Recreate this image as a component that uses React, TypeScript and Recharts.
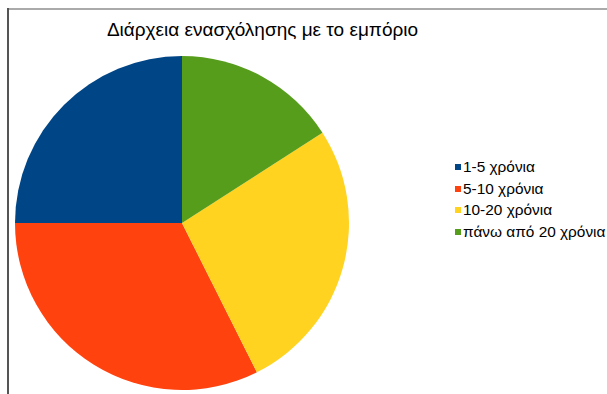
import React from 'react';
import { PieChart, Pie, Cell, Legend } from 'recharts';

const categories = ['1-5 χρόνια', '5-10 χρόνια', '10-20 χρόνια', 'πάνω από 20 χρόνια'];
const values = [25, 32.4, 26.7, 15.9];
const colors = ['#004586', '#ff420e', '#ffd320', '#579d1c'];
const title = 'Διάρχεια ενασχόλησης με το εμπόριο';

const data = categories.map((name, i) => ({ name, value: values[i] }));

const FONT = '"Liberation Sans", Arial, sans-serif';

const renderLegend = () => {
  return (
    <div style={{ fontFamily: FONT, fontSize: 15.4, color: '#000' }}>
      {categories.map((name, i) => (
        <div key={name} style={{ display: 'flex', alignItems: 'center', height: 21.7, whiteSpace: 'nowrap' }}>
          <span style={{ display: 'inline-block', width: 6, height: 6, background: colors[i], marginRight: 2 }} />
          <span>{name}</span>
        </div>
      ))}
    </div>
  );
};

export default function App() {
  return (
    <div style={{ position: 'absolute', left: 0, top: 0, width: 607, height: 394, background: '#fff', overflow: 'hidden' }}>
      <div style={{ position: 'absolute', left: 7, top: 8, width: 600, height: 2, background: '#aaaaaa' }} />
      <div style={{ position: 'absolute', left: 7, top: 8, width: 2, height: 386, background: '#555555' }} />
      <div style={{ position: 'absolute', left: 0, top: 19, width: 525, textAlign: 'center', fontFamily: FONT, fontSize: 19, color: '#000', whiteSpace: 'nowrap' }}>
        {title}
      </div>
      <PieChart width={607} height={394} style={{ position: 'absolute', left: 0, top: 0 }}>
        <Pie
          data={data}
          dataKey="value"
          nameKey="name"
          cx={177}
          cy={218}
          outerRadius={167}
          startAngle={90}
          endAngle={450}
          stroke="none"
          isAnimationActive={false}
        >
          {data.map((d, i) => (
            <Cell key={d.name} fill={colors[i]} />
          ))}
        </Pie>
        <Legend
          content={renderLegend}
          layout="vertical"
          wrapperStyle={{ position: 'absolute', left: 455, top: 156, width: 152 }}
        />
      </PieChart>
    </div>
  );
}
